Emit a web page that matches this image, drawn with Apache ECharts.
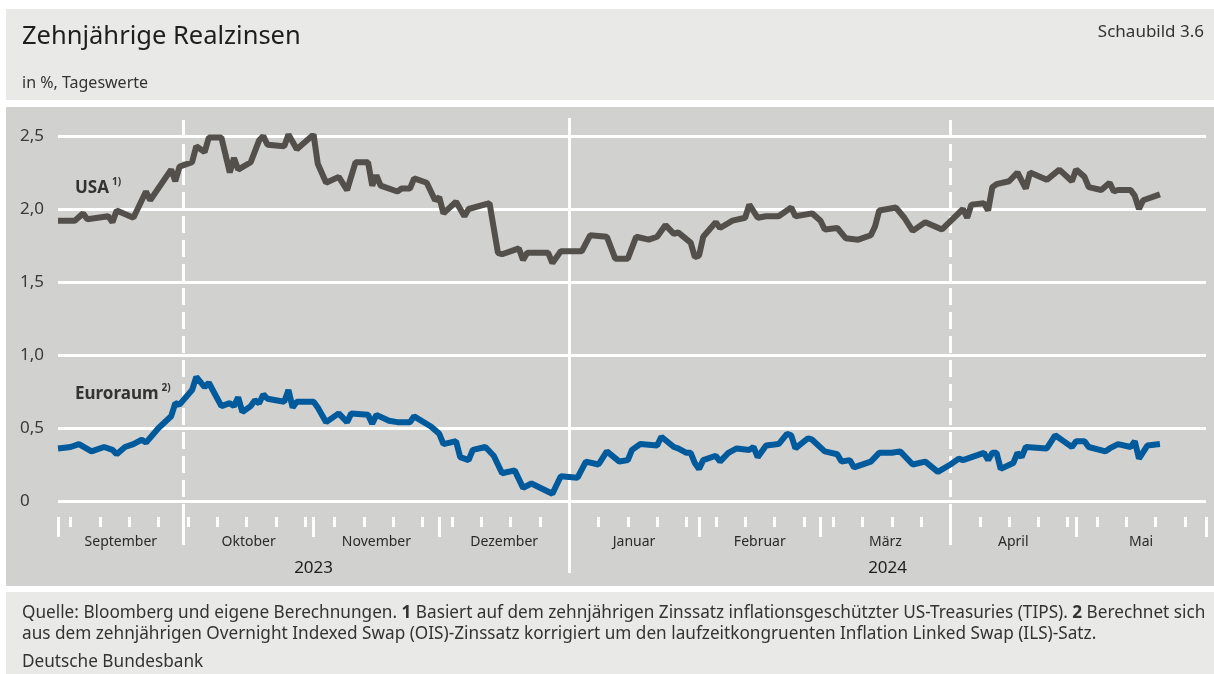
<!DOCTYPE html>
<html>
<head>
<meta charset="utf-8">
<script src="https://cdn.jsdelivr.net/npm/echarts@6.0.0/dist/echarts.min.js"></script>
<style>
  html, body { margin: 0; padding: 0; background: #ffffff; }
  #chart { width: 1214px; height: 674px; }
</style>
</head>
<body>
<div id="chart"></div>
<script>
// Tageswerte (Datum, %)
const usaData = [
  ['2023-09-01', 1.92], ['2023-09-05', 1.92], ['2023-09-07', 1.97], ['2023-09-08', 1.93], ['2023-09-13', 1.95],
  ['2023-09-14', 1.91], ['2023-09-15', 1.99], ['2023-09-19', 1.94], ['2023-09-22', 2.12], ['2023-09-23', 2.06],
  ['2023-09-28', 2.27], ['2023-09-29', 2.19], ['2023-09-30', 2.29], ['2023-10-03', 2.32], ['2023-10-04', 2.43],
  ['2023-10-06', 2.39], ['2023-10-07', 2.49], ['2023-10-10', 2.49], ['2023-10-12', 2.25], ['2023-10-13', 2.35],
  ['2023-10-14', 2.27], ['2023-10-17', 2.32], ['2023-10-19', 2.47], ['2023-10-20', 2.50], ['2023-10-21', 2.44],
  ['2023-10-25', 2.43], ['2023-10-26', 2.51], ['2023-10-28', 2.41], ['2023-11-01', 2.51], ['2023-11-02', 2.31],
  ['2023-11-04', 2.18], ['2023-11-07', 2.22], ['2023-11-09', 2.13], ['2023-11-11', 2.32], ['2023-11-14', 2.32],
  ['2023-11-15', 2.16], ['2023-11-16', 2.23], ['2023-11-17', 2.16], ['2023-11-21', 2.12], ['2023-11-22', 2.14],
  ['2023-11-24', 2.14], ['2023-11-25', 2.21], ['2023-11-28', 2.18], ['2023-11-30', 2.06], ['2023-12-01', 2.08],
  ['2023-12-02', 1.97], ['2023-12-05', 2.05], ['2023-12-07', 1.95], ['2023-12-08', 2.00], ['2023-12-13', 2.04],
  ['2023-12-15', 1.70], ['2023-12-16', 1.69], ['2023-12-20', 1.73], ['2023-12-21', 1.65], ['2023-12-22', 1.70],
  ['2023-12-27', 1.70], ['2023-12-28', 1.63], ['2023-12-30', 1.71], ['2024-01-04', 1.71], ['2024-01-06', 1.82],
  ['2024-01-10', 1.81], ['2024-01-12', 1.66], ['2024-01-15', 1.66], ['2024-01-17', 1.81], ['2024-01-20', 1.79],
  ['2024-01-22', 1.81], ['2024-01-24', 1.89], ['2024-01-26', 1.83], ['2024-01-27', 1.84], ['2024-01-30', 1.77],
  ['2024-01-31', 1.67], ['2024-02-01', 1.68], ['2024-02-02', 1.81], ['2024-02-05', 1.91], ['2024-02-06', 1.87],
  ['2024-02-09', 1.92], ['2024-02-12', 1.94], ['2024-02-13', 2.03], ['2024-02-15', 1.94], ['2024-02-17', 1.95],
  ['2024-02-20', 1.95], ['2024-02-23', 2.01], ['2024-02-24', 1.95], ['2024-02-28', 1.97], ['2024-03-01', 1.92],
  ['2024-03-02', 1.86], ['2024-03-05', 1.87], ['2024-03-07', 1.80], ['2024-03-10', 1.79], ['2024-03-13', 1.82],
  ['2024-03-14', 1.88], ['2024-03-15', 1.99], ['2024-03-19', 2.01], ['2024-03-21', 1.94], ['2024-03-23', 1.85],
  ['2024-03-26', 1.91], ['2024-03-30', 1.86], ['2024-04-04', 2.00], ['2024-04-05', 1.94], ['2024-04-06', 2.03],
  ['2024-04-09', 2.04], ['2024-04-10', 1.99], ['2024-04-11', 2.15], ['2024-04-12', 2.17], ['2024-04-15', 2.19],
  ['2024-04-17', 2.25], ['2024-04-19', 2.14], ['2024-04-20', 2.25], ['2024-04-24', 2.20], ['2024-04-27', 2.27],
  ['2024-04-30', 2.19], ['2024-05-01', 2.27], ['2024-05-03', 2.22], ['2024-05-04', 2.15], ['2024-05-07', 2.13],
  ['2024-05-09', 2.18], ['2024-05-10', 2.12], ['2024-05-11', 2.13], ['2024-05-14', 2.13], ['2024-05-15', 2.09],
  ['2024-05-16', 2.00], ['2024-05-17', 2.06], ['2024-05-21', 2.10]
];

const euroData = [
  ['2023-09-01', 0.36], ['2023-09-04', 0.37], ['2023-09-06', 0.39], ['2023-09-09', 0.34], ['2023-09-12', 0.37],
  ['2023-09-14', 0.35], ['2023-09-15', 0.32], ['2023-09-17', 0.37], ['2023-09-19', 0.39], ['2023-09-21', 0.42],
  ['2023-09-22', 0.40], ['2023-09-25', 0.50], ['2023-09-28', 0.58], ['2023-09-29', 0.67], ['2023-09-30', 0.66],
  ['2023-10-03', 0.76], ['2023-10-04', 0.85], ['2023-10-06', 0.78], ['2023-10-07', 0.81], ['2023-10-10', 0.65],
  ['2023-10-12', 0.67], ['2023-10-13', 0.65], ['2023-10-14', 0.71], ['2023-10-15', 0.61], ['2023-10-17', 0.65],
  ['2023-10-18', 0.69], ['2023-10-19', 0.67], ['2023-10-20', 0.73], ['2023-10-21', 0.70], ['2023-10-25', 0.68],
  ['2023-10-26', 0.76], ['2023-10-27', 0.64], ['2023-10-28', 0.68], ['2023-11-01', 0.68], ['2023-11-02', 0.64],
  ['2023-11-04', 0.54], ['2023-11-07', 0.60], ['2023-11-09', 0.54], ['2023-11-10', 0.60], ['2023-11-14', 0.59],
  ['2023-11-15', 0.53], ['2023-11-16', 0.59], ['2023-11-19', 0.55], ['2023-11-21', 0.54], ['2023-11-24', 0.54],
  ['2023-11-25', 0.58], ['2023-11-29', 0.51], ['2023-12-01', 0.46], ['2023-12-02', 0.39], ['2023-12-05', 0.41],
  ['2023-12-06', 0.30], ['2023-12-08', 0.28], ['2023-12-09', 0.35], ['2023-12-12', 0.37], ['2023-12-14', 0.31],
  ['2023-12-16', 0.19], ['2023-12-19', 0.21], ['2023-12-21', 0.09], ['2023-12-23', 0.12], ['2023-12-28', 0.05],
  ['2023-12-30', 0.17], ['2024-01-03', 0.16], ['2024-01-05', 0.27], ['2024-01-08', 0.25], ['2024-01-10', 0.34],
  ['2024-01-13', 0.27], ['2024-01-15', 0.28], ['2024-01-16', 0.35], ['2024-01-18', 0.39], ['2024-01-22', 0.38],
  ['2024-01-23', 0.44], ['2024-01-26', 0.37], ['2024-01-27', 0.36], ['2024-01-29', 0.33], ['2024-01-30', 0.33],
  ['2024-01-31', 0.26], ['2024-02-01', 0.22], ['2024-02-02', 0.28], ['2024-02-05', 0.31], ['2024-02-06', 0.27],
  ['2024-02-08', 0.33], ['2024-02-10', 0.36], ['2024-02-13', 0.35], ['2024-02-14', 0.37], ['2024-02-15', 0.30],
  ['2024-02-17', 0.38], ['2024-02-20', 0.39], ['2024-02-22', 0.46], ['2024-02-23', 0.45], ['2024-02-24', 0.36],
  ['2024-02-27', 0.43], ['2024-02-28', 0.42], ['2024-03-02', 0.34], ['2024-03-05', 0.32], ['2024-03-06', 0.27],
  ['2024-03-08', 0.28], ['2024-03-09', 0.23], ['2024-03-13', 0.27], ['2024-03-15', 0.33], ['2024-03-18', 0.33],
  ['2024-03-20', 0.34], ['2024-03-23', 0.25], ['2024-03-26', 0.27], ['2024-03-29', 0.20], ['2024-04-01', 0.25],
  ['2024-04-03', 0.29], ['2024-04-04', 0.28], ['2024-04-09', 0.33], ['2024-04-10', 0.28], ['2024-04-11', 0.33],
  ['2024-04-12', 0.33], ['2024-04-13', 0.22], ['2024-04-16', 0.26], ['2024-04-17', 0.33], ['2024-04-18', 0.30],
  ['2024-04-19', 0.37], ['2024-04-24', 0.36], ['2024-04-26', 0.45], ['2024-04-28', 0.41], ['2024-04-30', 0.37],
  ['2024-05-01', 0.41], ['2024-05-03', 0.41], ['2024-05-04', 0.37], ['2024-05-08', 0.34], ['2024-05-09', 0.36],
  ['2024-05-11', 0.39], ['2024-05-14', 0.37], ['2024-05-15', 0.41], ['2024-05-16', 0.29], ['2024-05-18', 0.38],
  ['2024-05-21', 0.39]
];

// Achse
const monthStarts = ['2023-09-01', '2023-10-01', '2023-11-01', '2023-12-01', '2024-01-01',
                     '2024-02-01', '2024-03-01', '2024-04-01', '2024-05-01', '2024-06-01'];
const monthNames = ['September', 'Oktober', 'November', 'Dezember', 'Januar', 'Februar', 'März', 'April', 'Mai'];
const yearStarts = ['2023-09-01', '2024-01-01', '2024-06-01'];
const yearNames = ['2023', '2024'];
const quarterLines = ['2023-10-01', '2024-04-01'];
const yearLines = ['2024-01-01'];
const yTicks = [0, 0.5, 1.0, 1.5, 2.0, 2.5];

const toTs = s => {
  const p = s.split('-').map(Number);
  return new Date(p[0], p[1] - 1, p[2]).getTime();
};
const xMin = toTs(monthStarts[0]);
const xMax = toTs(monthStarts[monthStarts.length - 1]);

const monthTicks = monthStarts.map(toTs);
const monthMids = monthNames.map((_, i) => (monthTicks[i] + monthTicks[i + 1]) / 2);
const yearMids = yearNames.map((_, i) => (toTs(yearStarts[i]) + toTs(yearStarts[i + 1])) / 2);
const weekTicks = [];
for (let k = 0; ; k++) {
  const t = new Date(2023, 8, 4 + 7 * k).getTime(); // Montage
  if (t >= xMax) break;
  weekTicks.push(t);
}

const FONT = 'Noto Sans';
const WHITE = '#ffffff';

const chart = echarts.init(document.getElementById('chart'), null, { renderer: 'canvas' });

const hiddenX = (gridIndex) => ({
  type: 'value', gridIndex, min: xMin, max: xMax, position: 'bottom',
  axisLine: { show: false }, axisTick: { show: false }, axisLabel: { show: false }, splitLine: { show: false }
});
const hiddenY = (gridIndex) => ({
  type: 'value', gridIndex, min: 0, max: 1,
  axisLine: { show: false }, axisTick: { show: false }, axisLabel: { show: false }, splitLine: { show: false }
});

const option = {
  animation: false,
  textStyle: { fontFamily: FONT },
  graphic: [
    { type: 'rect', z: -10, shape: { x: 6, y: 9, width: 1208, height: 91 }, style: { fill: '#e9e9e8' } },
    { type: 'rect', z: -10, shape: { x: 6, y: 107, width: 1208, height: 479 }, style: { fill: '#d1d1cf' } },
    { type: 'rect', z: -10, shape: { x: 6, y: 592, width: 1208, height: 82 }, style: { fill: '#e9e9e8' } },
    { type: 'text', left: 22, top: 24, style: { text: 'Zehnjährige Realzinsen', font: '25.5px "Noto Sans"', fill: '#1e1e1e' } },
    { type: 'text', left: 22, top: 75, style: { text: 'in %, Tageswerte', font: '16px "Noto Sans"', fill: '#333333' } },
    { type: 'text', right: 10, top: 24, style: { text: 'Schaubild 3.6', font: '17px "Noto Sans"', fill: '#333333' } },
    {
      type: 'text', left: 75, top: 177,
      style: {
        text: '{a|USA}{s|1)}',
        rich: {
          a: { fontFamily: FONT, fontSize: 17, fontWeight: 'bold', fill: '#333333', lineHeight: 23 },
          s: { fontFamily: FONT, fontSize: 10, fontWeight: 'bold', fill: '#333333', verticalAlign: 'top', padding: [0, 0, 0, 3] }
        }
      }
    },
    {
      type: 'text', left: 75, top: 383,
      style: {
        text: '{a|Euroraum}{s|2)}',
        rich: {
          a: { fontFamily: FONT, fontSize: 17, fontWeight: 'bold', fill: '#333333', lineHeight: 23 },
          s: { fontFamily: FONT, fontSize: 10, fontWeight: 'bold', fill: '#333333', verticalAlign: 'top', padding: [0, 0, 0, 3] }
        }
      }
    },
    {
      type: 'text', left: 22, top: 603,
      style: {
        text: 'Quelle: Bloomberg und eigene Berechnungen. {b|1} Basiert auf dem zehnjährigen Zinssatz inflationsgeschützter US-Treasuries (TIPS). {b|2} Berechnet sich\n' +
              'aus dem zehnjährigen Overnight Indexed Swap (OIS)-Zinssatz korrigiert um den laufzeitkongruenten Inflation Linked Swap (ILS)-Satz.',
        font: '17.2px "Noto Sans"', fill: '#333333', lineHeight: 21,
        rich: { b: { fontFamily: FONT, fontSize: 17.2, fontWeight: 'bold', fill: '#333333', lineHeight: 21 } }
      }
    },
    { type: 'text', left: 22, top: 654, style: { text: 'Deutsche Bundesbank', font: '17.2px "Noto Sans"', fill: '#333333' } }
  ],
  grid: [
    { left: 58, right: 8, top: 136, bottom: 173 },
    { left: 58, right: 8, top: 118, bottom: 101 },
    { left: 58, right: 8, top: 118, bottom: 129 }
  ],
  xAxis: [
    { type: 'time', gridIndex: 0, min: xMin, max: xMax, position: 'bottom',
      axisLine: { show: false }, axisTick: { show: false }, axisLabel: { show: false }, splitLine: { show: false } },
    {
      // Monatsgrenzen + Monatsnamen
      type: 'value', gridIndex: 0, min: xMin, max: xMax, position: 'bottom', offset: 16,
      axisLine: { show: false },
      axisTick: { show: true, customValues: monthTicks, length: 20, lineStyle: { color: WHITE, width: 3 } },
      axisLabel: {
        customValues: monthMids, margin: 18, color: '#2a2a2a', fontSize: 14, fontFamily: FONT,
        formatter: (v) => monthNames[monthMids.indexOf(v)] || ''
      },
      splitLine: { show: false }
    },
    {
      // Wochen (Montage)
      type: 'value', gridIndex: 0, min: xMin, max: xMax, position: 'bottom', offset: 16,
      axisLine: { show: false },
      axisTick: { show: true, customValues: weekTicks, length: 10, lineStyle: { color: WHITE, width: 3 } },
      axisLabel: { show: false },
      splitLine: { show: false }
    },
    {
      // Jahre
      type: 'value', gridIndex: 0, min: xMin, max: xMax, position: 'bottom', offset: 16,
      axisLine: { show: false }, axisTick: { show: false },
      axisLabel: {
        customValues: yearMids, margin: 43, color: '#1e1e1e', fontSize: 17, fontFamily: FONT,
        formatter: (v) => yearNames[yearMids.indexOf(v)] || ''
      },
      splitLine: { show: false }
    },
    hiddenX(1),
    hiddenX(2)
  ],
  yAxis: [
    {
      type: 'value', gridIndex: 0, min: yTicks[0], max: yTicks[yTicks.length - 1], interval: 0.5,
      axisLine: { show: false }, axisTick: { show: false },
      axisLabel: {
        align: 'left', margin: 38, color: '#3a3a3a', fontSize: 17, fontFamily: FONT,
        formatter: (v) => v === 0 ? '0' : v.toFixed(1).replace('.', ',')
      },
      splitLine: { show: true, lineStyle: { color: WHITE, width: 3 } }
    },
    hiddenY(1),
    hiddenY(2)
  ],
  series: [
    {
      name: 'Jahresgrenze', type: 'line', xAxisIndex: 4, yAxisIndex: 1, data: [], z: 1, silent: true,
      markLine: {
        silent: true, symbol: ['none', 'none'], label: { show: false },
        lineStyle: { color: WHITE, width: 3, type: 'solid' },
        data: yearLines.map(d => ({ xAxis: toTs(d) }))
      }
    },
    {
      name: 'Quartalsgrenze', type: 'line', xAxisIndex: 5, yAxisIndex: 2, data: [], z: 1, silent: true,
      markLine: {
        silent: true, symbol: ['none', 'none'], label: { show: false },
        lineStyle: { color: WHITE, width: 3, type: [17, 7] },
        data: quarterLines.map(d => ({ xAxis: toTs(d) }))
      }
    },
    {
      name: 'USA', type: 'line', xAxisIndex: 0, yAxisIndex: 0, z: 5,
      data: usaData.map(p => [toTs(p[0]), p[1]]),
      showSymbol: false, lineStyle: { color: '#53504c', width: 6 }, itemStyle: { color: '#53504c' }
    },
    {
      name: 'Euroraum', type: 'line', xAxisIndex: 0, yAxisIndex: 0, z: 5,
      data: euroData.map(p => [toTs(p[0]), p[1]]),
      showSymbol: false, lineStyle: { color: '#005a9c', width: 6 }, itemStyle: { color: '#005a9c' }
    }
  ]
};

chart.setOption(option);
</script>
</body>
</html>
